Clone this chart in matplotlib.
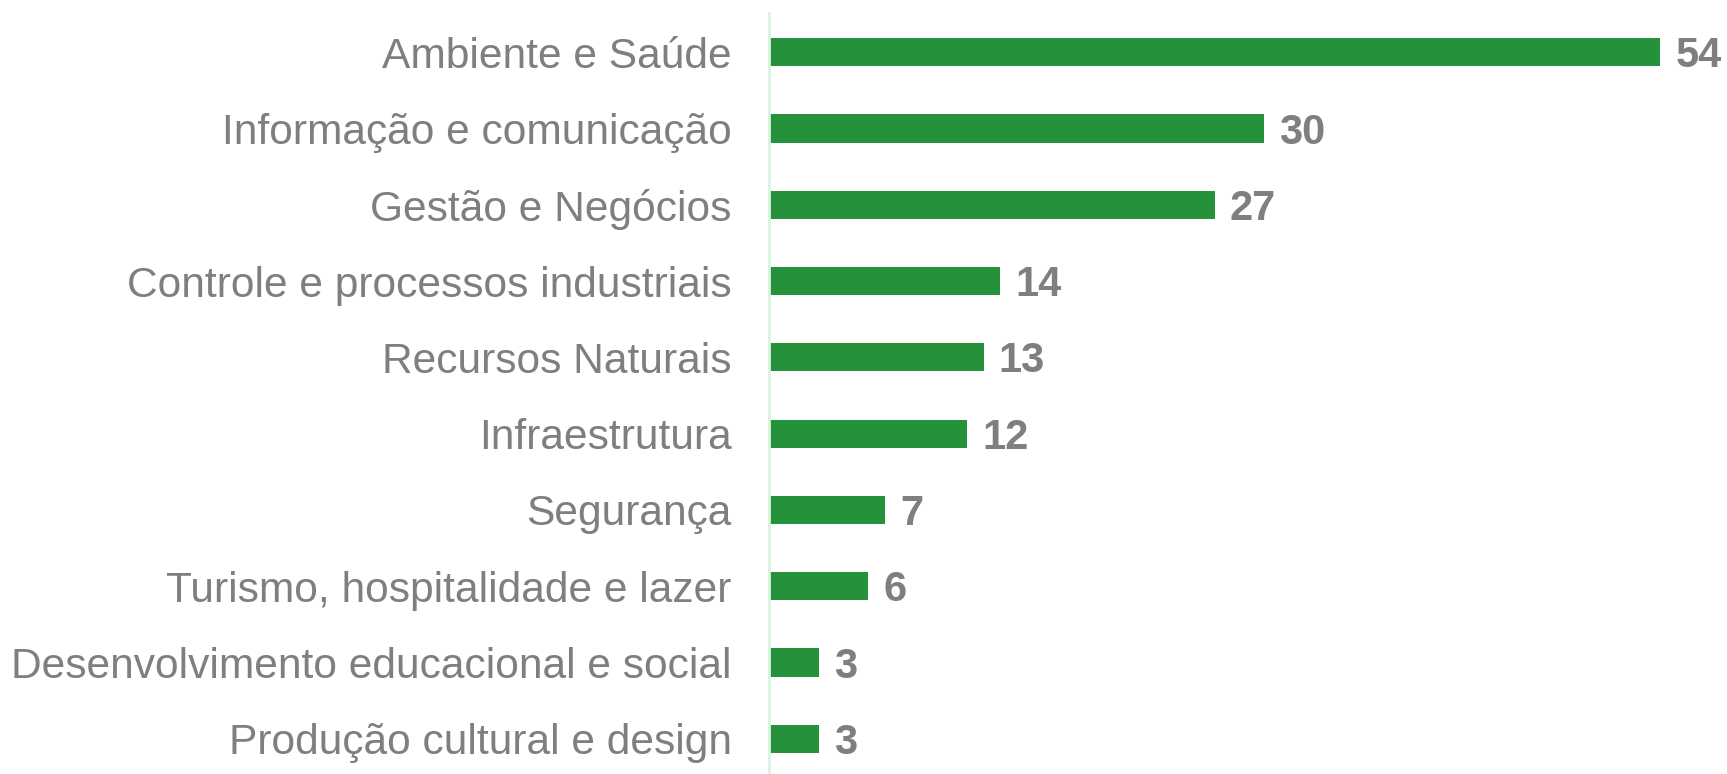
import matplotlib.pyplot as plt

plt.rcParams['font.family'] = ['Liberation Sans', 'DejaVu Sans']

# eixos / categorias
categorias = ['Ambiente e Saúde',
              'Informação e comunicação',
              'Gestão e Negócios',
              'Controle e processos industriais',
              'Recursos Naturais',
              'Infraestrutura',
              'Segurança',
              'Turismo, hospitalidade e lazer',
              'Desenvolvimento educacional e social',
              'Produção cultural e design']
valores = [54, 30, 27, 14, 13, 12, 7, 6, 3, 3]

verde = '#25913a'
cinza = '#7f7f7f'

fig = plt.figure(figsize=(17.27, 7.74), dpi=100)
ax = fig.add_axes([0.4453, 0.0, 0.5547, 0.983])

pos = list(range(len(categorias)))
ax.barh(pos, valores, height=0.37, color=verde)

# rotulos de valor
for p, v in zip(pos, valores):
    ax.annotate(str(v), (v, p), xytext=(11, -3), textcoords='offset points',
                va='center', ha='left', fontsize=30, fontweight='bold', color=cinza)

ax.set_yticks(pos)
ax.set_yticklabels(categorias, fontsize=30.6, color=cinza)
ax.tick_params(axis='y', length=0, pad=27)
ax.set_xticks([])
ax.set_xlim(0, 58.06)
ax.set_ylim(9.46, -0.51)

for s in ['top', 'right', 'bottom']:
    ax.spines[s].set_visible(False)
ax.spines['left'].set_color('#d9f3e0')
ax.spines['left'].set_linewidth(2)

fig.savefig('out.png', dpi=100)
